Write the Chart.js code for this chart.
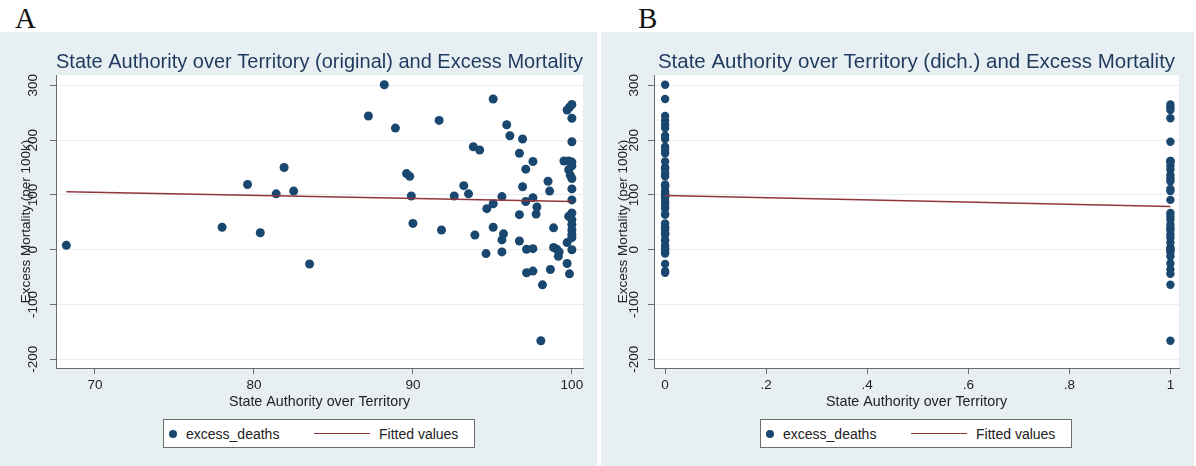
<!DOCTYPE html>
<html>
<head>
<meta charset="utf-8">
<script src="https://cdn.jsdelivr.net/npm/chart.js@4.4.1/dist/chart.umd.min.js"></script>
<style>
    body { margin: 0; width: 1196px; height: 466px; background: #fff; position: relative; overflow: hidden; font-family: 'Liberation Sans', Arial, sans-serif; }
    .panel { position: absolute; top: 32px; height: 434px; background: #e8eff2; }
    .panel canvas { position: absolute; left: 0; top: 0; }
    .letter { position: absolute; top: 4px; font-family: 'Liberation Serif', 'Times New Roman', serif; font-size: 29px; line-height: 1; color: #111; }
    .legend { position: absolute; top: 387px; width: 312px; height: 29px; box-sizing: border-box; border: 1px solid #6d6d6d; background: #fff; font-size: 14px; color: #222; }
    .legend .dot { position: absolute; left: 5px; top: 10px; width: 8px; height: 8px; border-radius: 50%; background: #1a476f; }
    .legend .t1 { position: absolute; left: 22px; top: 6px; }
    .legend .ln { position: absolute; left: 150px; top: 13px; width: 56px; height: 0; border-top: 1.5px solid #90353b; }
    .legend .t2 { position: absolute; left: 215px; top: 6px; }
</style>
</head>
<body>
<div class="letter" style="left:15px">A</div>
<div class="letter" style="left:638px">B</div>

<div class="panel" style="left:0; width:597px">
    <canvas id="chartA" width="597" height="434"></canvas>
    <div class="legend" style="left:163px"><span class="dot"></span><span class="t1">excess_deaths</span><span class="ln"></span><span class="t2">Fitted values</span></div>
</div>
<div class="panel" style="left:601px; width:593px">
    <canvas id="chartB" width="593" height="434"></canvas>
    <div class="legend" style="left:159px"><span class="dot"></span><span class="t1">excess_deaths</span><span class="ln"></span><span class="t2">Fitted values</span></div>
</div>

<script>
// panel A: state authority (0-100) vs excess deaths per 100k
let authority = [68.2, 78.0, 79.6, 80.4, 81.9, 81.4, 82.5, 83.5, 87.2, 88.2, 88.9, 91.65, 95.05, 89.6, 89.8, 89.9, 90.0,
    91.8, 92.6, 93.2, 93.5, 93.8, 94.2, 93.9, 94.65, 95.05, 95.05, 94.6, 95.6, 95.7, 95.6, 95.6, 95.9, 96.1, 96.9, 96.7,
    97.55, 97.1, 96.9, 97.1, 97.55, 96.7, 97.8, 97.75, 96.7, 97.15, 97.55, 97.15, 97.55, 98.15, 98.05, 98.5, 98.6,
    98.85, 98.85, 99.05, 99.2, 99.15, 98.65, 99.7, 99.85, 99.7, 99.85, 100, 100, 100, 99.5, 99.8, 100, 100, 99.8,
    99.9, 100, 100, 100, 100, 99.8, 100, 100, 100, 100, 100, 99.7, 100];
let excessDeaths = [8, 41, 119, 31, 150, 102, 107, -26, 244, 301, 222, 236, 275, 139, 134, 98, 48,
    36, 98, 117, 102, 188, 182, 27, 75, 84, 41, -7, 97, 29, 18, -4, 228, 208, 202, 176,
    161, 147, 115, 88, 95, 64, 78, 65, 16, 1, 2, -42, -39, -64, -166, 125, 107,
    40, 4, 1, -4, -12, -36, -25, -44, 255, 260, 265, 240, 197, 162, 162, 160, 153, 146,
    136, 130, 111, 91, 67, 61, 55, 46, 36, 28, 22, 13, 0];
let fitA_x = [68.2, 100];
let fitA_y = [106, 88];

// panel B: dichotomised authority (0 / 1)
let deathsAuth0 = [8, 41, 119, 31, 150, 102, 107, -26, 244, 301, 222, 236, 275, 139, 134, 98, 48, 36, 98, 117, 102,
    188, 182, 27, 75, 84, 41, -7, 97, 29, 18, -4, 228, 208, 202, 176, 161, 147, 115, 88, 95, 64, 78, 65, 16, 1, 2, -42, -39];
let deathsAuth1 = [-64, -166, 125, 107, 40, 4, 1, -4, -12, -36, -25, -44, 255, 260, 265, 240, 197, 162, 162, 160,
    153, 146, 136, 130, 111, 91, 67, 61, 55, 46, 36, 28, 22, 13, 0];
let fitB_x = [0, 1];
let fitB_y = [99, 79];

let yTicks = [-200, -100, 0, 100, 200, 300];
let xTicksA = [70, 80, 90, 100];
let xTicksB = [0, 0.2, 0.4, 0.6, 0.8, 1];
let xTickLabelsB = ['0', '.2', '.4', '.6', '.8', '1'];

const FONT = "'Liberation Sans', Arial, sans-serif";
const NAVY = '#1a476f';
const MAROON = '#90353b';
const AXIS = '#6b6b6b';

// white plot region like Stata
const plotBg = {
    id: 'plotBg',
    beforeDraw: function (chart) {
        let a = chart.chartArea;
        chart.ctx.save();
        chart.ctx.fillStyle = '#fff';
        chart.ctx.fillRect(a.left, a.top, a.right - a.left, a.bottom - a.top);
        chart.ctx.restore();
    }
};

function toPoints(xs, ys) {
    return ys.map(function (y, i) { return {x: xs[i], y: y}; });
}

function makeChart(id, opt) {
    new Chart(document.getElementById(id), {
        type: 'scatter',
        data: {
            datasets: [
                {
                    type: 'line',
                    label: 'Fitted values',
                    data: opt.fit,
                    borderColor: MAROON,
                    borderWidth: 1.5,
                    pointRadius: 0,
                    fill: false
                },
                {
                    label: 'excess_deaths',
                    data: opt.points,
                    backgroundColor: NAVY,
                    borderWidth: 0,
                    pointRadius: opt.radius
                }
            ]
        },
        options: {
            responsive: false,
            animation: false,
            events: [],
            layout: {autoPadding: false, padding: {left: 0, right: opt.rightPad, top: 0, bottom: 53}},
            plugins: {
                legend: {display: false},
                tooltip: {enabled: false},
                title: {
                    display: true,
                    text: opt.title,
                    fullSize: false,
                    color: '#1f3a5f',
                    font: {family: FONT, size: 20.5, weight: 'normal'},
                    padding: {top: 18, bottom: 0.5}
                }
            },
            scales: {
                x: {
                    type: 'linear',
                    min: opt.xMin,
                    max: opt.xMax,
                    afterBuildTicks: function (scale) {
                        scale.ticks = opt.xTicks.map(function (v) { return {value: v}; });
                    },
                    afterFit: function (scale) { scale.height = 45; },
                    border: {display: true, color: AXIS, width: 1},
                    grid: {color: 'rgba(0,0,0,0)', tickColor: AXIS, tickLength: 6},
                    ticks: {
                        padding: 3,
                        color: '#222',
                        font: {family: FONT, size: 13.5},
                        callback: function (value, index) { return opt.xLabels[index]; }
                    },
                    title: {
                        display: true,
                        text: 'State Authority over Territory',
                        color: '#222',
                        font: {family: FONT, size: 14.3},
                        padding: {top: 0, bottom: 2}
                    }
                },
                y: {
                    min: -215.8,
                    max: 318.7,
                    afterBuildTicks: function (scale) {
                        scale.ticks = yTicks.map(function (v) { return {value: v}; });
                    },
                    afterFit: function (scale) { scale.width = opt.yWidth; },
                    border: {display: true, color: AXIS, width: 1},
                    grid: {color: '#e6eef1', tickColor: AXIS, tickLength: 6},
                    ticks: {
                        minRotation: 90,
                        maxRotation: 90,
                        crossAlign: 'center',
                        padding: opt.yTickPad,
                        color: '#222',
                        font: {family: FONT, size: 13.5}
                    },
                    title: {
                        display: true,
                        text: 'Excess Mortality (per 100k)',
                        color: '#222',
                        font: {family: FONT, size: 13.5},
                        padding: {top: opt.yTitlePad, bottom: 0}
                    }
                }
            }
        },
        plugins: [plotBg]
    });
}

document.addEventListener('DOMContentLoaded', function () {
    makeChart('chartA', {
        title: 'State Authority over Territory (original) and Excess Mortality',
        points: toPoints(authority, excessDeaths),
        fit: toPoints(fitA_x, fitA_y),
        radius: 4.5,
        xMin: 67.55, xMax: 100.7,
        xTicks: xTicksA,
        xLabels: xTicksA.map(String),
        yWidth: 56, yTickPad: 3, yTitlePad: 18,
        rightPad: 14
    });

    makeChart('chartB', {
        title: 'State Authority over Territory (dich.) and Excess Mortality',
        points: toPoints(deathsAuth0.map(function () { return 0; }), deathsAuth0)
            .concat(toPoints(deathsAuth1.map(function () { return 1; }), deathsAuth1)),
        fit: toPoints(fitB_x, fitB_y),
        radius: 4.2,
        xMin: -0.022, xMax: 1.017,
        xTicks: xTicksB,
        xLabels: xTickLabelsB,
        yWidth: 53, yTickPad: 0, yTitlePad: 14,
        rightPad: 15
    });
});
</script>
</body>
</html>
